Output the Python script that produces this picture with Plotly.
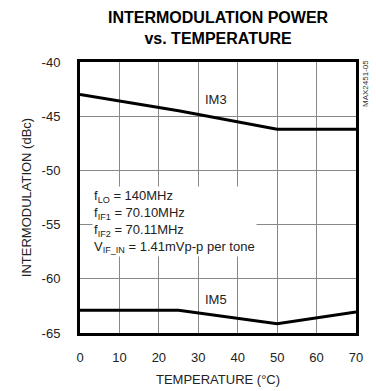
import plotly.graph_objects as go

temp_im3 = [0, 25, 50, 70]
im3 = [-43.0, -44.5, -46.2, -46.2]
temp_im5 = [0, 25, 50, 70]
im5 = [-62.9, -62.9, -64.15, -63.05]

x_ticks = [0, 10, 20, 30, 40, 50, 60, 70]
y_ticks = [-65, -60, -55, -50, -45, -40]
y_tick_text = ["-65", "-60", "-55", "-50", "-45", "-40"]

FONT = "Liberation Sans, Arial"

fig = go.Figure()
fig.add_trace(go.Scatter(x=temp_im3, y=im3, mode="lines",
                         line=dict(color="black", width=3), showlegend=False))
fig.add_trace(go.Scatter(x=temp_im5, y=im5, mode="lines",
                         line=dict(color="black", width=3), showlegend=False))

fig.update_layout(
    width=376, height=391,
    margin=dict(l=80, r=20, t=62, b=58, autoexpand=False),
    paper_bgcolor="white", plot_bgcolor="white",
    font=dict(family=FONT, size=13, color="#222"),
)

fig.update_xaxes(range=[0, 70], tickvals=x_ticks, showgrid=True, gridcolor="#888",
                 gridwidth=1, showline=True, linecolor="black", linewidth=3, mirror=True,
                 zeroline=False, ticks="", ticklabelstandoff=10, automargin=False,
                 title=dict(text="TEMPERATURE (°C)", standoff=12, font=dict(size=13)))
fig.update_yaxes(range=[-65, -40], tickvals=y_ticks, ticktext=y_tick_text, showgrid=True,
                 gridcolor="#888", gridwidth=1, showline=True, linecolor="black", linewidth=3,
                 mirror=True, zeroline=False, ticks="", ticklabelstandoff=14, automargin=False,
                 title=dict(text="INTERMODULATION (dBc)", standoff=8, font=dict(size=13)))

fig.add_annotation(x=0.5, xref="paper", y=1, yref="paper", yshift=55, yanchor="top",
                   text="<b>INTERMODULATION POWER<br>vs. TEMPERATURE</b>", showarrow=False,
                   font=dict(size=16, color="black"), align="center")
fig.add_annotation(x=34.4, y=-43.45, text="IM3", showarrow=False, xanchor="center",
                   font=dict(size=13, color="#222"), bgcolor="white")
fig.add_annotation(x=34.6, y=-61.95, text="IM5", showarrow=False, xanchor="center",
                   font=dict(size=13, color="#222"), bgcolor="white")
fig.add_annotation(x=0.045, xref="paper", y=-51.4, yanchor="top", xanchor="left", align="left",
                   text="f<sub>LO</sub> = 140MHz<br>f<sub>IF1</sub> = 70.10MHz<br>"
                        "f<sub>IF2</sub> = 70.11MHz<br>V<sub>IF_IN</sub> = 1.41mVp-p per tone",
                   showarrow=False, font=dict(size=13, color="#222"), bgcolor="white")
fig.add_annotation(x=1.0, xref="paper", xanchor="left", xshift=3, y=-40, yanchor="top",
                   yshift=4, text="MAX2451-05", textangle=-90, showarrow=False,
                   font=dict(size=8, color="#333"))

fig.write_html("out.html")
